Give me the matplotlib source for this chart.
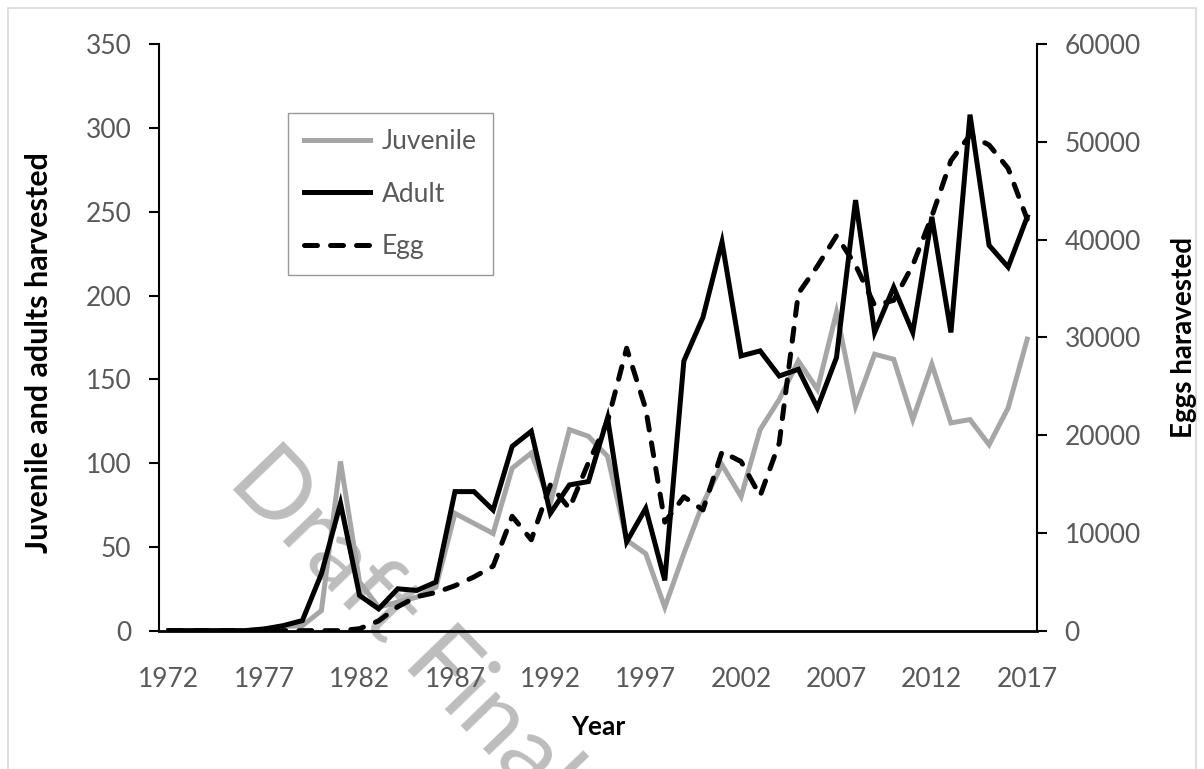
import matplotlib.pyplot as plt
from matplotlib.lines import Line2D
from matplotlib.patches import Rectangle

years = list(range(1972, 2018))

juvenile = [0, 0, 0, 0, 0, 1, 2.5, 3, 12, 101, 29, 14, 17, 20, 26, 70, 64, 58, 97, 106,
            76, 120, 116, 104, 54, 46, 14, 46, 76, 99, 80, 120, 138, 161, 144, 190, 134,
            165, 162, 126, 159, 124, 126, 111, 133, 174]

adult = [0, 0, 0, 0, 0, 1, 3, 6, 34, 76, 21, 13, 25, 24, 29, 83, 83, 72, 110, 119,
         70, 87, 89, 127, 53, 73, 30, 161, 187, 232, 164, 167, 152, 156, 133, 163, 257,
         178, 205, 178, 247, 178, 308, 230, 217, 247]

egg = [0, 0, 0, 0, 0, 0, 0, 0, 0, 0, 200, 1000, 2450, 3480, 3900, 4600, 5500, 6600,
       11700, 9300, 14900, 12500, 17200, 21400, 28900, 22700, 11100, 13700, 12350,
       18300, 17300, 13800, 19200, 34500, 37300, 40400, 37400, 33300, 33800, 37400,
       42400, 48100, 50700, 49700, 47300, 42100]

year_ticks = list(range(1972, 2018, 5))
left_ticks = list(range(0, 351, 50))
right_ticks = list(range(0, 60001, 10000))

plt.rcParams["font.family"] = ["Lato", "DejaVu Sans"]
TICK_GREY = "#595959"

fig = plt.figure(figsize=(12.04, 7.69), dpi=100)
ax = fig.add_axes([0.1323, 0.1799, 0.7288, 0.7625])
ax2 = ax.twinx()
ax.patch.set_visible(False)
ax2.patch.set_visible(False)

# outer chart border
fig.patches.append(Rectangle((8 / 1204, -0.02), 1188 / 1204, 1.02 - 8 / 769,
                             transform=fig.transFigure, fill=False,
                             edgecolor="#d9d9d9", linewidth=1.2, zorder=-5))

# watermark sits under the series
fig.text(0.188, 0.372, "Draft Final Version", rotation=-46, rotation_mode="anchor",
         ha="left", va="baseline", fontsize=70, color="#bdbdbd",
         zorder=-2, family=["Lato", "DejaVu Sans"])

lw = 3.6
ax.plot(years, juvenile, color="#a6a6a6", lw=lw, solid_joinstyle="miter", zorder=2)
ax.plot(years, adult, color="black", lw=lw, solid_joinstyle="miter", zorder=3)
ax2.plot(years, egg, color="black", lw=lw, dashes=(2.6, 2.6),
         dash_capstyle="round", zorder=4)

ax.set_xlim(1971.5, 2017.5)
ax.set_ylim(0, 350)
ax2.set_ylim(0, 60000)

ax.set_xticks(year_ticks)
ax.set_yticks(left_ticks)
ax2.set_yticks(right_ticks)

for a in (ax, ax2):
    a.spines["top"].set_visible(False)
    for s in a.spines.values():
        s.set_linewidth(1.5)
ax.spines["right"].set_visible(False)
ax2.spines["left"].set_visible(False)
ax2.spines["bottom"].set_visible(False)
ax.spines["bottom"].set_linewidth(2)

ax.tick_params(axis="x", length=0, pad=26, labelsize=19, labelcolor=TICK_GREY)
ax.tick_params(axis="y", direction="out", length=7, width=1.5, pad=13,
               labelsize=19, labelcolor=TICK_GREY)
ax2.tick_params(axis="y", direction="out", length=7, width=1.5, pad=13,
                labelsize=19, labelcolor=TICK_GREY)

ax.set_xlabel("Year", fontsize=19, fontweight="bold", labelpad=17)
ax.set_ylabel("Juvenile and adults harvested", fontsize=22, fontweight="bold")
ax.yaxis.set_label_coords(-0.121, 0.475)
ax2.set_ylabel("Eggs haravested", fontsize=20, fontweight="bold", labelpad=22)

handles = [
    Line2D([], [], color="#a6a6a6", lw=lw),
    Line2D([], [], color="black", lw=lw),
    Line2D([], [], color="black", lw=lw, dashes=(2.6, 2.6), dash_capstyle="round"),
]
leg = ax2.legend(handles, ["Juvenile", "Adult", "Egg"], loc="upper left",
                 bbox_to_anchor=(288 / 1204, 1 - 113 / 769),
                 bbox_transform=fig.transFigure, fontsize=19, frameon=True,
                 fancybox=False, handlelength=2.5, handletextpad=0.45,
                 labelspacing=1.05, borderpad=0.6, borderaxespad=0,
                 labelcolor=TICK_GREY)
leg.get_frame().set_edgecolor("#7f7f7f")
leg.get_frame().set_linewidth(1.0)

fig.savefig("out.png", dpi=100)
